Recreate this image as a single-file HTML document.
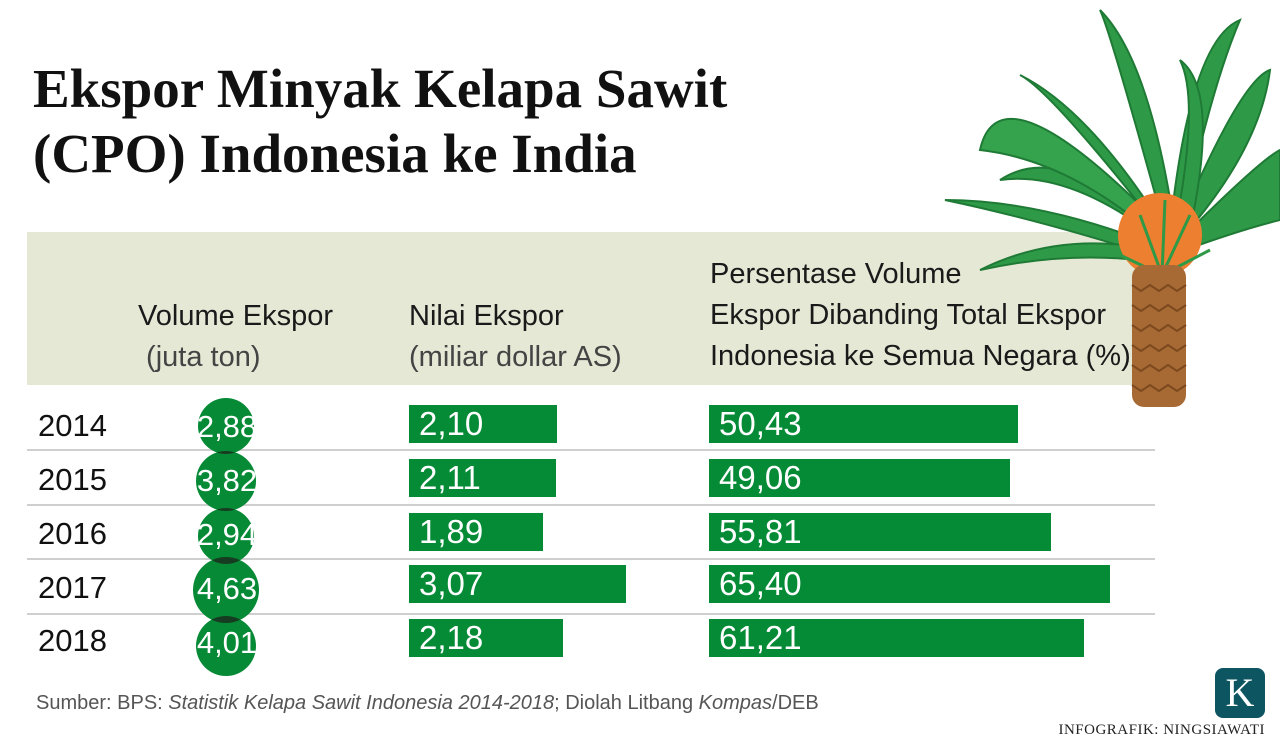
<!DOCTYPE html>
<html><head><meta charset="utf-8"><style>
body{margin:0;width:1280px;height:754px;background:#fff;position:relative;overflow:hidden;font-family:"Liberation Sans",sans-serif}
.t{position:absolute;left:33px;font-family:"Liberation Serif",serif;font-weight:bold;font-size:55px;color:#111;white-space:nowrap;line-height:63px}
.band{position:absolute;left:27px;top:232px;width:1108px;height:153px;background:#e5e8d5}
.h{position:absolute;font-size:29px;color:#1a1a1a;line-height:41px;white-space:nowrap}
.h span{color:#444}
.yr{position:absolute;left:38px;font-size:31px;color:#111;line-height:30px}
.sep{position:absolute;left:27px;width:1128px;height:2px;background:#cfcfcf}
.bar{position:absolute;height:38px;background:#058a36;color:#fff;font-size:33px;line-height:38px;padding-left:10px;box-sizing:border-box}
</style></head><body>
<div class="t" style="top:57px">Ekspor Minyak Kelapa Sawit</div>
<div class="t" style="top:122px">(CPO) Indonesia ke India</div>
<div class="band"></div>
<svg style="position:absolute;left:940px;top:0" width="340" height="420">
<g fill="#2e9a47" stroke="#1f7a35" stroke-width="2">
<path d="M220 230 Q120 140 60 180 Q130 170 220 240Z"/>
<path d="M220 230 Q110 90 80 75 Q150 110 225 230Z"/>
<path d="M225 230 Q170 30 160 10 Q210 60 235 230Z"/>
<path d="M230 230 Q250 40 300 20 Q270 90 240 235Z"/>
<path d="M235 235 Q300 80 330 70 Q320 150 240 240Z"/>
<path d="M240 240 Q320 160 340 150 L340 220 Q300 230 245 250Z"/>
<path d="M215 245 Q100 200 5 200 Q100 220 210 255Z"/>
<path d="M215 250 Q120 230 40 270 Q130 250 215 262Z"/>
<path d="M225 230 Q60 60 40 150 Q130 160 220 240Z" fill="#35a24e"/>
<path d="M235 230 Q260 100 240 60 Q280 90 250 230Z"/>
</g>
<circle cx="220" cy="235" r="42" fill="#ec7f30"/>
<g stroke="#2e9a47" stroke-width="3" fill="none"><path d="M222 275 L200 215"/><path d="M222 275 L225 200"/><path d="M222 275 L250 215"/><path d="M222 275 L180 255"/><path d="M222 275 L270 250"/></g>
<rect x="192" y="265" width="54" height="142" rx="12" fill="#a86a35"/>
<g stroke="#7d4a1f" stroke-width="2" fill="none">
<path d="M192 285 l9 6 9-6 9 6 9-6 9 6 9-6"/><path d="M192 305 l9 6 9-6 9 6 9-6 9 6 9-6"/><path d="M192 325 l9 6 9-6 9 6 9-6 9 6 9-6"/><path d="M192 345 l9 6 9-6 9 6 9-6 9 6 9-6"/><path d="M192 365 l9 6 9-6 9 6 9-6 9 6 9-6"/><path d="M192 385 l9 6 9-6 9 6 9-6 9 6 9-6"/></g>
</svg>
<div class="h" style="left:138px;top:296px">Volume Ekspor<br><span>&nbsp;(juta ton)</span></div>
<div class="h" style="left:409px;top:296px">Nilai Ekspor<br><span>(miliar dollar AS)</span></div>
<div class="h" style="left:710px;top:254px">Persentase Volume<br>Ekspor Dibanding Total Ekspor<br>Indonesia ke Semua Negara (%)</div>

<div class="sep" style="top:449px"></div><div class="sep" style="top:504px"></div><div class="sep" style="top:558px"></div><div class="sep" style="top:613px"></div>

<div class="yr" style="top:411px">2014</div><div class="yr" style="top:465px">2015</div><div class="yr" style="top:519px">2016</div><div class="yr" style="top:573px">2017</div><div class="yr" style="top:626px">2018</div>

<svg style="position:absolute;left:0;top:0" width="400" height="700">
<defs><clipPath id="a"><circle cx="226" cy="426" r="28"/></clipPath><clipPath id="b"><circle cx="226" cy="481" r="30"/></clipPath><clipPath id="c"><circle cx="226" cy="536" r="28"/></clipPath><clipPath id="d"><circle cx="226" cy="590" r="33"/></clipPath></defs>
<circle cx="226" cy="426" r="28" fill="#068a36"/>
<circle cx="226" cy="481" r="30" fill="#068a36"/>
<circle cx="226" cy="536" r="28" fill="#068a36"/>
<circle cx="226" cy="590" r="33" fill="#068a36"/>
<circle cx="226" cy="646" r="30" fill="#068a36"/>
<circle cx="226" cy="481" r="30" fill="#163d22" clip-path="url(#a)"/>
<circle cx="226" cy="536" r="28" fill="#163d22" clip-path="url(#b)"/>
<circle cx="226" cy="590" r="33" fill="#163d22" clip-path="url(#c)"/>
<circle cx="226" cy="646" r="30" fill="#163d22" clip-path="url(#d)"/>
<g font-family="Liberation Sans, sans-serif" font-size="31" fill="#fff" text-anchor="middle">
<text x="227" y="437">2,88</text><text x="227" y="491">3,82</text><text x="227" y="545">2,94</text><text x="227" y="599">4,63</text><text x="227" y="653">4,01</text></g>
</svg>

<div class="bar" style="left:409px;top:405px;width:148px">2,10</div>
<div class="bar" style="left:409px;top:459px;width:147px">2,11</div>
<div class="bar" style="left:409px;top:513px;width:134px">1,89</div>
<div class="bar" style="left:409px;top:565px;width:217px">3,07</div>
<div class="bar" style="left:409px;top:619px;width:154px">2,18</div>

<div class="bar" style="left:709px;top:405px;width:309px">50,43</div>
<div class="bar" style="left:709px;top:459px;width:301px">49,06</div>
<div class="bar" style="left:709px;top:513px;width:342px">55,81</div>
<div class="bar" style="left:709px;top:565px;width:401px">65,40</div>
<div class="bar" style="left:709px;top:619px;width:375px">61,21</div>

<div style="position:absolute;left:36px;top:692px;font-size:20px;color:#555;white-space:nowrap">Sumber: BPS: <i>Statistik Kelapa Sawit Indonesia 2014-2018</i>; Diolah Litbang <i>Kompas</i>/DEB</div>
<div style="position:absolute;left:1215px;top:668px;width:50px;height:50px;border-radius:8px;background:#0e5562;color:#fff;font-family:'Liberation Serif',serif;font-size:40px;text-align:center;line-height:50px">K</div>
<div style="position:absolute;left:990px;top:722px;width:275px;text-align:right;font-family:'Liberation Serif',serif;font-size:15px;color:#222;letter-spacing:0.5px">INFOGRAFIK: NINGSIAWATI</div>
</body></html>
